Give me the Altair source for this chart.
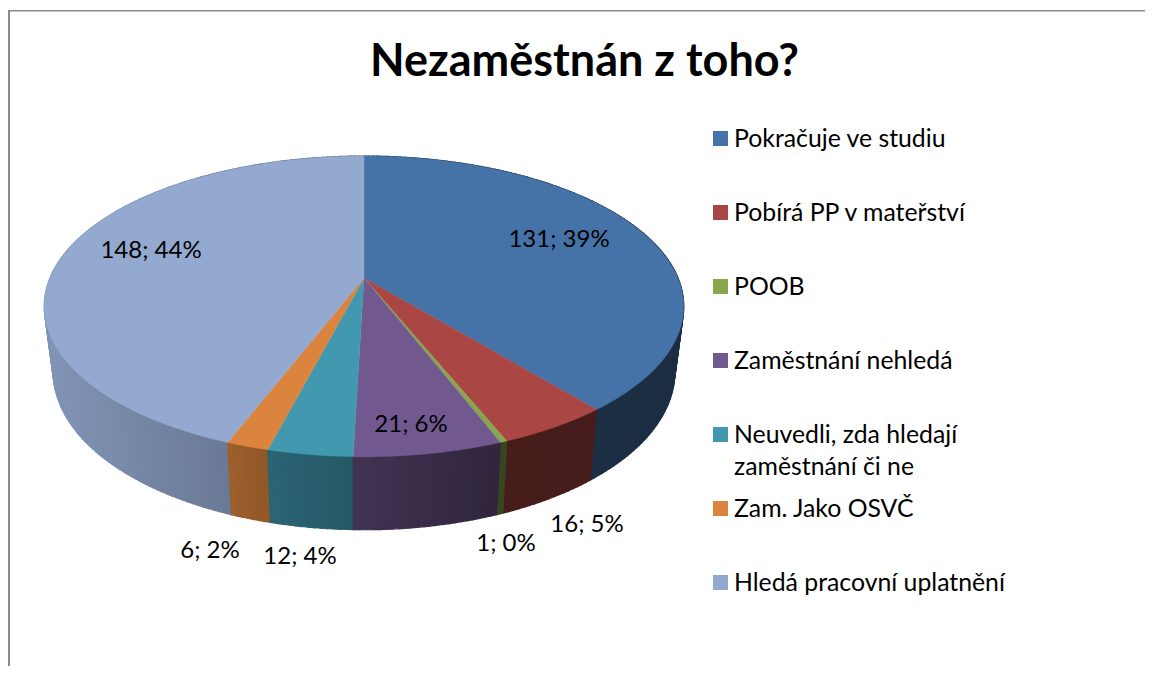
import numpy as np
import pandas as pd
import altair as alt

# ---- chart values ----
categories = ["Pokračuje ve studiu", "Pobírá PP v mateřství", "POOB", "Zaměstnání nehledá",
              "Neuvedli, zda hledají\nzaměstnání či ne", "Zam. Jako OSVČ", "Hledá pracovní uplatnění"]
values = [131, 16, 1, 21, 12, 6, 148]
percents = [39, 5, 0, 6, 4, 2, 44]
colors = ["#4572A7", "#AA4643", "#89A54E", "#71588F", "#4198AF", "#DB843D", "#93A9CF"]
title_text = "Nezaměstnán z toho?"

# ---- layout (page pixels) ----
W, H = 1137, 658
APEX_X, APEX_Y = 364.0, 278.0
SX, SY, K = 314.0, 145.0, 0.189
WALL_FX, WALL_FY, WALL_Y0 = 0.972, 1.05, 342.0
label_x = [559, 587, 506, 411, 300, 210, 151]
label_y = [240, 525, 544, 425, 557, 551, 251]
legend_y = [138.5, 212.5, 286.5, 360.5, 434.5, 508.5, 582.5]
FONT = "Lato"

def top_point(a):
    X, Y = np.sin(a), np.cos(a)
    w = 1 + K * Y
    return APEX_X + SX * X / w, APEX_Y - SY * Y / w

def wall_point(a):
    x, y = top_point(a)
    return APEX_X + WALL_FX * (x - APEX_X), WALL_Y0 + WALL_FY * (y - APEX_Y)

def shade(x):
    return float(np.interp(x, [53, 232, 270, 355, 500, 672], [0.88, 0.72, 0.66, 0.58, 0.42, 0.40]))

def darker(hex_color, f):
    rgb = [int(hex_color[i:i + 2], 16) for i in (1, 3, 5)]
    return "#%02x%02x%02x" % tuple(int(round(c * f)) for c in rgb)

total = sum(values)
edges = np.concatenate([[0], np.cumsum(values)]) / total * 2 * np.pi

top_rows, wall_rows = [], []
strip_id = 0
strips = []
for i, cat in enumerate(categories):
    a0, a1 = edges[i], edges[i + 1]
    n = max(2, int((a1 - a0) / np.radians(1.0)) + 1)
    angles = np.linspace(a0, a1, n + 1)
    pts = [(APEX_X, APEX_Y)] + [top_point(a) for a in angles]
    for j, (x, y) in enumerate(pts):
        top_rows.append({"slice": i, "o": j, "x": x, "y": y, "cat": cat})
    for b0, b1 in zip(angles[:-1], angles[1:]):
        strips.append((i, b0, b1))

strips.sort(key=lambda s: -np.cos((s[1] + s[2]) / 2))
for i, b0, b1 in strips:
    tx0, ty0 = top_point(b0)
    tx1, ty1 = top_point(b1)
    wx0, wy0 = wall_point(b0)
    wx1, wy1 = wall_point(b1)
    col = darker(colors[i], shade((wx0 + wx1) / 2))
    for j, (x, y) in enumerate([(tx0, ty0), (tx1, ty1), (wx1, wy1), (wx0, wy0)]):
        wall_rows.append({"s": strip_id, "o": j, "x": x, "y": y, "c": col})
    strip_id += 1

top_df = pd.DataFrame(top_rows)
wall_df = pd.DataFrame(wall_rows)
label_df = pd.DataFrame({"t": [f"{v}; {p}%" for v, p in zip(values, percents)], "x": label_x, "y": label_y})
legend_df = pd.DataFrame({"cat": categories, "y": legend_y, "x": [720.5] * 7, "tx": [734] * 7,
                          "ty": [y + 8 for y in legend_y]})

xs = alt.Scale(domain=[8, 8 + W], range=[0, W], nice=False, zero=False)
ys = alt.Scale(domain=[8, 8 + H], range=[0, H], nice=False, zero=False)
cs = alt.Scale(domain=categories, range=colors)
X = alt.X("x:Q", scale=xs, axis=None)
Y = alt.Y("y:Q", scale=ys, axis=None)

walls = alt.Chart(wall_df).mark_line(filled=True, strokeWidth=1.2, interpolate="linear-closed").encode(
    x=X, y=Y, order="o:Q", detail="s:N",
    fill=alt.Fill("c:N", scale=None, legend=None), stroke=alt.Stroke("c:N", scale=None, legend=None))
tops = alt.Chart(top_df).mark_line(filled=True, strokeWidth=0.4, interpolate="linear-closed").encode(
    x=X, y=Y, order="o:Q", detail="slice:N",
    fill=alt.Fill("cat:N", scale=cs, legend=None), stroke=alt.Stroke("cat:N", scale=cs, legend=None))
labels = alt.Chart(label_df).mark_text(font=FONT, fontSize=24, color="#000000").encode(
    x=X, y=Y, text="t:N")
squares = alt.Chart(legend_df).mark_square(size=225, opacity=1, filled=True).encode(
    x=X, y=Y, fill=alt.Fill("cat:N", scale=cs, legend=None))
legend_text = alt.Chart(legend_df).mark_text(font=FONT, fontSize=24.8, align="left", baseline="alphabetic",
                                             lineBreak="\n", lineHeight=32, color="#000000").encode(
    x=alt.X("tx:Q", scale=xs, axis=None), y=alt.Y("ty:Q", scale=ys, axis=None), text="cat:N")
frame_left = alt.Chart(pd.DataFrame({"k": [0]})).mark_rule(color="#8a8a8a", strokeWidth=2).encode(
    x=alt.value(1), y=alt.value(2), y2=alt.value(H))
frame_top = alt.Chart(pd.DataFrame({"k": [0]})).mark_rule(color="#8a8a8a", strokeWidth=1.5).encode(
    x=alt.value(0), x2=alt.value(W), y=alt.value(2.7))

chart = alt.layer(frame_left, frame_top, walls, tops, labels, squares, legend_text).properties(
    width=W, height=H,
    padding=0,
    autosize=alt.AutoSizeParams(type="none"),
    title=alt.TitleParams(title_text, font=FONT, fontSize=45, fontWeight="bold", color="#000000",
                          anchor="middle", frame="group", dx=8, offset=-113, baseline="alphabetic"),
).configure_view(stroke=None)

chart.save("out.html", embed_options={"renderer": "svg", "actions": False})
